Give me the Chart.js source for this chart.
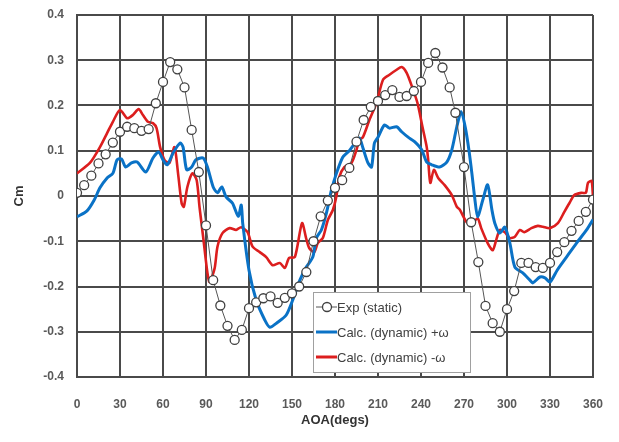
<!DOCTYPE html>
<html>
<head>
<meta charset="utf-8">
<script src="https://cdn.jsdelivr.net/npm/chart.js@4"></script>
<style>
  html, body { margin: 0; padding: 0; background: #fff; }
  #wrap { width: 619px; height: 442px; }
</style>
</head>
<body>
<div id="wrap"><canvas id="cmChart" width="619" height="442"></canvas></div>
<script>
// AOA ticks
const xTicks = [0, 30, 60, 90, 120, 150, 180, 210, 240, 270, 300, 330, 360];
const yTicks = [-0.4, -0.3, -0.2, -0.1, 0, 0.1, 0.2, 0.3, 0.4];

const seriesNames = ['Exp (static)', 'Calc. (dynamic) +\u03c9', 'Calc. (dynamic) -\u03c9'];

// Exp (static)
const expAoa = [0, 5, 10, 15, 20, 25, 30, 35, 40, 45, 50, 55, 60, 65, 70, 75, 80, 85, 90, 95,
  100, 105, 110, 115, 120, 125, 130, 135, 140, 145, 150, 155, 160, 165, 170, 175, 180, 185, 190, 195,
  200, 205, 210, 215, 220, 225, 230, 235, 240, 245, 250, 255, 260, 264, 270, 275, 280, 285, 290, 295,
  300, 305, 310, 315, 320, 325, 330, 335, 340, 345, 350, 355, 360];
const expCm = [0.007, 0.024, 0.045, 0.072, 0.092, 0.118, 0.142, 0.153, 0.150, 0.144, 0.148, 0.205, 0.252, 0.296, 0.280, 0.240, 0.146, 0.053, -0.065, -0.186,
  -0.242, -0.287, -0.318, -0.296, -0.248, -0.235, -0.226, -0.222, -0.236, -0.225, -0.215, -0.200, -0.168, -0.100, -0.045, -0.010, 0.018, 0.035, 0.062, 0.120,
  0.168, 0.197, 0.210, 0.223, 0.234, 0.219, 0.221, 0.232, 0.252, 0.294, 0.316, 0.284, 0.240, 0.184, 0.064, -0.058, -0.146, -0.243, -0.281, -0.300,
  -0.250, -0.210, -0.148, -0.148, -0.157, -0.159, -0.148, -0.124, -0.102, -0.077, -0.055, -0.035, -0.008];

// Calc. (dynamic) +w
const plusAoa = [0, 7, 12, 16, 21, 25, 28, 31, 34, 38, 42, 48, 53, 57, 60, 63, 67, 72, 74, 76.5,
  80, 83, 88, 91, 95, 98, 101, 104, 108.5, 112.5, 114.6, 115.6, 120, 125, 131, 134.5, 140, 146, 150.5, 155.5,
  160, 164.5, 167, 170.5, 174, 177.5, 181, 185.5, 190, 194, 197, 199.5, 203, 205.5, 207.5, 210, 214.5, 218, 223, 226.5,
  231, 235.5, 240.5, 244, 247.5, 253, 258, 261.5, 265, 268, 271, 273.5, 275.5, 277.5, 279.5, 283, 286.5, 289.5, 291.5, 295,
  298.5, 302, 305.5, 311, 316, 318, 323, 326.5, 330, 335, 341.5, 348.5, 355.5, 360];
const plusCm = [-0.046, -0.033, -0.009, 0.018, 0.040, 0.050, 0.080, 0.082, 0.064, 0.073, 0.075, 0.053, 0.084, 0.097, 0.080, 0.069, 0.095, 0.117, 0.108, 0.058,
  0.064, 0.080, 0.084, 0.064, 0.020, 0.007, 0.020, -0.002, -0.016, -0.045, -0.020, -0.060, -0.164, -0.230, -0.274, -0.290, -0.279, -0.263, -0.230, -0.186,
  -0.157, -0.135, -0.093, -0.075, -0.038, 0.013, 0.050, 0.086, 0.100, 0.117, 0.128, 0.106, 0.073, 0.064, 0.117, 0.130, 0.157, 0.150, 0.153, 0.142,
  0.130, 0.120, 0.102, 0.075, 0.069, 0.064, 0.075, 0.102, 0.153, 0.186, 0.150, 0.100, 0.050, -0.005, -0.046, -0.010, 0.025, -0.031, -0.060, -0.082,
  -0.069, -0.104, -0.157, -0.170, -0.186, -0.192, -0.179, -0.181, -0.190, -0.164, -0.135, -0.104, -0.075, -0.052];

// Calc. (dynamic) -w
const minusAoa = [0, 9, 16, 21, 25, 30, 35, 39, 43, 46, 49.5, 53, 55.5, 58, 61, 64.5, 68, 70.5, 73, 74.5,
  77, 80.5, 83.5, 85.5, 88, 91, 92.5, 96, 98, 101.5, 106.5, 111, 114.5, 119, 122.5, 127.5, 132, 136.5, 141.5, 145,
  148, 152, 157, 160, 162, 165.5, 168, 171.5, 175, 178.5, 181, 183, 186.5, 191.5, 195, 197, 199.5, 204, 209, 213.5,
  218, 223, 226.5, 230, 234, 237.5, 241, 244, 245, 246.5, 249, 252, 256.5, 261.5, 265, 267, 272, 276, 279.5, 282,
  286.5, 290, 292.5, 295, 298.5, 302, 305.5, 309, 312, 317, 321.5, 325, 330, 335.5, 340, 343.5, 347, 352, 355, 356.5,
  359, 360];
const minusCm = [0.050, 0.073, 0.108, 0.139, 0.164, 0.190, 0.172, 0.179, 0.192, 0.179, 0.164, 0.161, 0.150, 0.108, 0.080, 0.073, 0.108, 0.050, -0.016, -0.024,
  0.020, 0.050, 0.035, -0.025, -0.090, -0.170, -0.190, -0.160, -0.112, -0.082, -0.071, -0.075, -0.069, -0.080, -0.112, -0.124, -0.135, -0.153, -0.148, -0.159,
  -0.137, -0.135, -0.060, -0.095, -0.115, -0.124, -0.104, -0.093, -0.053, -0.031, 0.000, 0.042, 0.064, 0.073, 0.102, 0.124, 0.130, 0.168, 0.206, 0.257,
  0.268, 0.279, 0.285, 0.272, 0.239, 0.206, 0.153, 0.108, 0.080, 0.029, 0.058, 0.040, 0.024, 0.002, -0.024, -0.030, -0.058, -0.060, -0.049, -0.071,
  -0.104, -0.120, -0.097, -0.075, -0.080, -0.093, -0.090, -0.075, -0.080, -0.071, -0.066, -0.068, -0.071, -0.060, -0.035, -0.016, 0.002, 0.007, 0.007, 0.029,
  0.033, -0.002];

const toPoints = (xs, ys) => xs.map((x, i) => ({ x: x, y: ys[i] }));

const gridColor = '#4a4a4a';
const tickColor = '#595959';
const fontFam = '"Liberation Sans", Arial, sans-serif';

// legend box drawn inside the plot area
const insideLegend = {
  id: 'insideLegend',
  afterDraw(chart) {
    const c = chart.ctx;
    const x0 = 313, y0 = 292, w = 157, h = 80;
    c.save();
    c.fillStyle = '#fff';
    c.fillRect(x0, y0, w, h);
    c.strokeStyle = '#a0a0a0';
    c.lineWidth = 1;
    c.strokeRect(x0 + 0.5, y0 + 0.5, w, h);
    c.font = '13px ' + fontFam;
    c.textBaseline = 'middle';
    const rows = [307, 332, 357];
    chart.data.datasets.forEach((ds, i) => {
      const y = rows[i];
      c.strokeStyle = ds.borderColor;
      c.lineWidth = i === 0 ? 1 : 3;
      c.beginPath();
      c.moveTo(316, y);
      c.lineTo(337, y);
      c.stroke();
      if (i === 0) {
        c.beginPath();
        c.arc(327, y, 4.5, 0, Math.PI * 2);
        c.fillStyle = '#fff';
        c.fill();
        c.strokeStyle = '#404040';
        c.lineWidth = 1.3;
        c.stroke();
      }
      c.fillStyle = '#404040';
      c.fillText(ds.label, 337, y + 1);
    });
    c.restore();
  }
};

new Chart(document.getElementById('cmChart').getContext('2d'), {
  type: 'line',
  data: {
    datasets: [
      {
        label: seriesNames[0],
        data: toPoints(expAoa, expCm),
        borderColor: '#555555',
        borderWidth: 1,
        pointRadius: 4.5,
        pointBackgroundColor: '#ffffff',
        pointBorderColor: '#404040',
        pointBorderWidth: 1.3,
        tension: 0
      },
      {
        label: seriesNames[1],
        data: toPoints(plusAoa, plusCm),
        borderColor: '#0a72c6',
        borderWidth: 3,
        pointRadius: 0,
        tension: 0.25
      },
      {
        label: seriesNames[2],
        data: toPoints(minusAoa, minusCm),
        borderColor: '#dc1e1e',
        borderWidth: 2.6,
        pointRadius: 0,
        tension: 0.25
      }
    ]
  },
  options: {
    animation: false,
    responsive: false,
    devicePixelRatio: 1,
    layout: { padding: { left: 0, right: 26, top: 15, bottom: 0 } },
    plugins: {
      legend: { display: false },
      tooltip: { enabled: false }
    },
    scales: {
      x: {
        type: 'linear',
        min: 0,
        max: 360,
        afterBuildTicks: s => { s.ticks = xTicks.map(v => ({ value: v })); },
        afterFit: s => { s.height = 65; s.paddingLeft = 0; s.paddingRight = 0; },
        grid: { color: gridColor, lineWidth: 2, drawTicks: false },
        border: { color: gridColor, width: 2 },
        ticks: { color: tickColor, padding: 20, font: { family: fontFam, size: 12, weight: 'bold' } },
        title: {
          display: true,
          text: 'AOA(degs)',
          color: '#333',
          padding: { top: 4, bottom: 14 },
          font: { family: fontFam, size: 13, weight: 'bold' }
        }
      },
      y: {
        min: -0.4,
        max: 0.4,
        afterBuildTicks: s => { s.ticks = yTicks.map(v => ({ value: v })); },
        afterFit: s => { s.width = 77; s.paddingTop = 0; s.paddingBottom = 0; },
        grid: { color: gridColor, lineWidth: 2, drawTicks: false },
        border: { color: gridColor, width: 2 },
        ticks: {
          color: tickColor,
          padding: 13,
          font: { family: fontFam, size: 12, weight: 'bold' },
          callback: v => (Math.abs(v) < 1e-9 ? '0' : v.toFixed(1))
        },
        title: {
          display: true,
          text: 'Cm',
          color: '#333',
          padding: { top: 12, bottom: 0 },
          font: { family: fontFam, size: 13, weight: 'bold' }
        }
      }
    }
  },
  plugins: [insideLegend]
});
</script>
</body>
</html>
